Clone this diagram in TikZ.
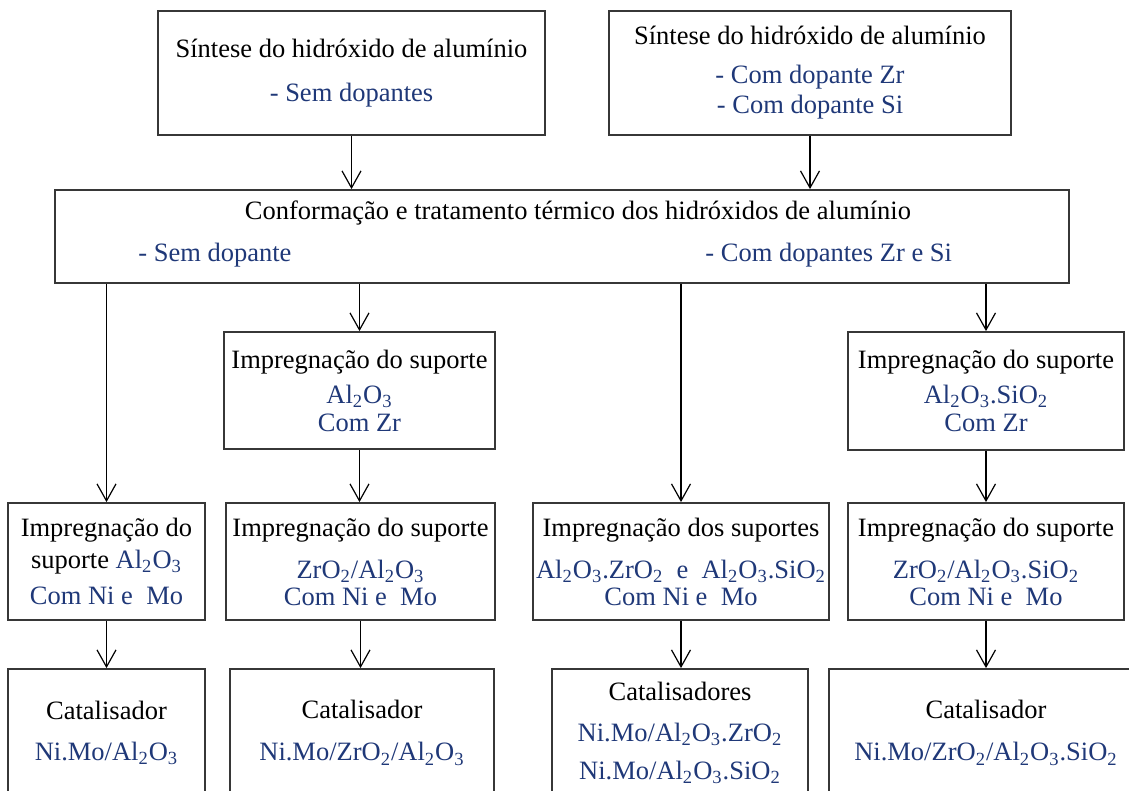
\documentclass[tikz,border=0pt]{standalone}
\usepackage{fontspec}
\setmainfont{Liberation Serif}
\usepackage{tikz}
\usetikzlibrary{arrows.meta}

\definecolor{azul}{RGB}{31,56,120}
\definecolor{borda}{RGB}{55,55,55}
\newcommand{\alo}{Al\textsubscript{2}O\textsubscript{3}}
\newcommand{\zro}{ZrO\textsubscript{2}}
\newcommand{\sio}{SiO\textsubscript{2}}
\newcommand{\az}[1]{\textcolor{azul}{#1}}

\begin{document}
\begin{tikzpicture}[x=0.5pt,y=-0.5pt,
        caixa/.style={draw=borda,line width=0.9pt,inner sep=0pt,align=center,
            font=\fontsize{13.25}{16}\selectfont},
        texto/.style={inner sep=0pt,font=\fontsize{13.25}{16}\selectfont},
        seta/.style={-{Straight Barb[length=8.5pt,width=9.5pt]},line width=0.6pt}]
        \clip (0,0) rectangle (1129,791);
        \node[caixa,minimum width=193.5pt,minimum height=62pt] (sem) at (351.5,73)
            {Síntese do hidróxido de alumínio\\[6pt]\az{- Sem dopantes}};
        \node[caixa,minimum width=201pt,minimum height=62pt] (com) at (810,73)
            {Síntese do hidróxido de alumínio\\[3.5pt]\az{- Com dopante Zr}\\[-1pt]\az{- Com dopante Si}};
        \node[caixa,minimum width=507pt,minimum height=46.5pt] (conf) at (562,236.5) {};
        \node[texto] (titulo) at (578,213)
            {Conformação e tratamento térmico dos hidróxidos de alumínio};
        \node[texto,anchor=west,text=azul] (semdop) at (138,255) {- Sem dopante};
        \node[texto,anchor=west,text=azul] (comdop) at (705,255) {- Com dopantes Zr e Si};
        \node[caixa,minimum width=135.5pt,minimum height=58.5pt] (r2b) at (359.5,390.5)
            {Impregnação do suporte\\[1.5pt]\az{\alo}\\[-2pt]\az{Com Zr}};
        \node[caixa,minimum width=138pt,minimum height=59pt] (r2d) at (986,391)
            {Impregnação do suporte\\[1.5pt]\az{\alo.\sio}\\[-2pt]\az{Com Zr}};
        \node[caixa,minimum width=98.5pt,minimum height=58.5pt] (r3a) at (106.5,561.5)
            {Impregnação do\\suporte \az{\alo}\\[2pt]\az{Com Ni e\ \ Mo}};
        \node[caixa,minimum width=134.5pt,minimum height=58.5pt] (r3b) at (360.5,561.5)
            {Impregnação do suporte\\[5pt]\az{\zro/\alo}\\[-2.5pt]\az{Com Ni e\ \ Mo}};
        \node[caixa,minimum width=148pt,minimum height=58.5pt] (r3c) at (681,561.5)
            {Impregnação dos suportes\\[5pt]\az{\alo.\zro\ \ e\ \ \alo.\sio}\\[-2.5pt]\az{Com Ni e\ \ Mo}};
        \node[caixa,minimum width=138pt,minimum height=58.5pt] (r3d) at (986,561.5)
            {Impregnação do suporte\\[5pt]\az{\zro/\alo.\sio}\\[-2.5pt]\az{Com Ni e\ \ Mo}};
        \node[caixa,minimum width=98.5pt,minimum height=64pt] (r4a) at (106.5,733)
            {Catalisador\\[4.5pt]\az{Ni.Mo/\alo}};
        \node[caixa,minimum width=132pt,minimum height=64pt] (r4b) at (362,733)
            {Catalisador\\[5pt]\az{Ni.Mo/\zro/\alo}};
        \node[caixa,minimum width=128pt,minimum height=64pt] (r4c) at (680,733)
            {Catalisadores\\[4.5pt]\az{Ni.Mo/\alo.\zro}\\[3pt]\az{Ni.Mo/\alo.\sio}};
        \node[caixa,minimum width=157pt,minimum height=64pt] (r4d) at (986,733)
            {Catalisador\\[5pt]\az{Ni.Mo/\zro/\alo.\sio}};
        \draw[seta] (sem.south) -- (sem.south |- conf.north);
        \draw[seta] (com.south) -- (com.south |- conf.north);
        \draw[seta] (r3a.north |- conf.south) -- (r3a.north);
        \draw[seta] (r2b.north |- conf.south) -- (r2b.north);
        \draw[seta] (r3c.north |- conf.south) -- (r3c.north);
        \draw[seta] (r2d.north |- conf.south) -- (r2d.north);
        \draw[seta] (r2b.south) -- (r2b.south |- r3b.north);
        \draw[seta] (r2d.south) -- (r3d.north);
        \draw[seta] (r3a.south) -- (r4a.north);
        \draw[seta] (r3b.south) -- (r3b.south |- r4b.north);
        \draw[seta] (r3c.south) -- (r3c.south |- r4c.north);
        \draw[seta] (r3d.south) -- (r4d.north);
\end{tikzpicture}
\end{document}
